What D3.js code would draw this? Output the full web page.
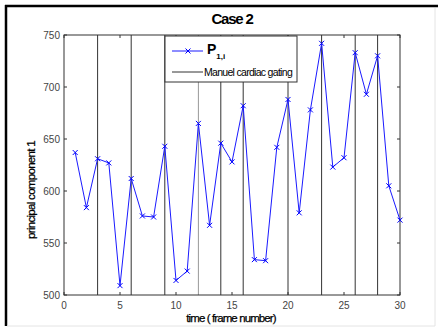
<!DOCTYPE html>
<html>
<head>
<meta charset="utf-8">
<script src="https://cdn.jsdelivr.net/npm/d3@7"></script>
<style>
  body { margin: 0; background: #fff; }
  text { font-family: "Liberation Sans Narrow", "Liberation Sans", Arial, sans-serif; }
</style>
</head>
<body>
<svg id="chart"></svg>
<script>
// data
const frames = d3.range(1, 31);
const pc1 = [637, 584, 631, 627, 509, 612, 576, 575, 643, 514,
             523, 665, 567, 646, 628, 682, 534, 533, 642, 688,
             579, 678, 742, 623, 632, 733, 693, 730, 605, 572];
const gating = [3, 6, 9, 12, 14, 16, 20, 23, 26, 28];
const xTicks = [0, 5, 10, 15, 20, 25, 30];
const yTicks = [500, 550, 600, 650, 700, 750];

const width = 438, height = 330;
const svg = d3.select("#chart").attr("width", width).attr("height", height);

// outer frame (dark top/left, light bottom/right)
svg.append("line").attr("x1", 5).attr("x2", 438).attr("y1", 6).attr("y2", 6)
  .attr("stroke", "#000").attr("stroke-width", 2.5);
svg.append("line").attr("x1", 6).attr("x2", 6).attr("y1", 5).attr("y2", 326)
  .attr("stroke", "#000").attr("stroke-width", 2.5);
svg.append("line").attr("x1", 435).attr("x2", 435).attr("y1", 8).attr("y2", 326)
  .attr("stroke", "#e4e4e4");
svg.append("line").attr("x1", 7).attr("x2", 435).attr("y1", 326).attr("y2", 326)
  .attr("stroke", "#e4e4e4");

const m = { left: 64, right: 400, top: 35, bottom: 295 };
const x = d3.scaleLinear().domain([0, 30]).range([m.left, m.right]);
const y = d3.scaleLinear().domain([500, 750]).range([m.bottom, m.top]);

// gating lines
svg.append("g").selectAll("line").data(gating).join("line")
  .attr("x1", d => x(d)).attr("x2", d => x(d))
  .attr("y1", m.top).attr("y2", m.bottom)
  .attr("stroke", d => d === 12 ? "#999" : "#333")
  .attr("stroke-width", 1);

// axes box
svg.append("rect").attr("x", m.left).attr("y", m.top)
  .attr("width", m.right - m.left).attr("height", m.bottom - m.top)
  .attr("fill", "none").attr("stroke", "#333").attr("stroke-width", 1);

// ticks (inward)
const tk = 3;
const tickG = svg.append("g").attr("stroke", "#333");
xTicks.forEach(t => {
  tickG.append("line").attr("x1", x(t)).attr("x2", x(t)).attr("y1", m.bottom).attr("y2", m.bottom - tk);
  tickG.append("line").attr("x1", x(t)).attr("x2", x(t)).attr("y1", m.top).attr("y2", m.top + tk);
});
yTicks.forEach(t => {
  tickG.append("line").attr("x1", m.left).attr("x2", m.left + tk).attr("y1", y(t)).attr("y2", y(t));
  tickG.append("line").attr("x1", m.right).attr("x2", m.right - tk).attr("y1", y(t)).attr("y2", y(t));
});

svg.append("g").selectAll("text").data(xTicks).join("text")
  .attr("x", d => x(d)).attr("y", m.bottom + 14)
  .attr("text-anchor", "middle").attr("font-size", 10).attr("fill", "#444")
  .text(d => d);
svg.append("g").selectAll("text").data(yTicks).join("text")
  .attr("x", m.left - 4).attr("y", d => y(d) + 3.5)
  .attr("text-anchor", "end").attr("font-size", 10).attr("fill", "#444")
  .text(d => d);

// series
const line = d3.line().x((d, i) => x(frames[i])).y(d => y(d));
svg.append("path").datum(pc1).attr("d", line)
  .attr("fill", "none").attr("stroke", "#1a1aff").attr("stroke-width", 1);

const s = 2.5;
const cross = (cx, cy) => `M${cx - s},${cy - s}L${cx + s},${cy + s}M${cx - s},${cy + s}L${cx + s},${cy - s}`;
svg.append("g").selectAll("path").data(pc1).join("path")
  .attr("d", (d, i) => cross(x(frames[i]), y(d)))
  .attr("stroke", "#0000ff").attr("stroke-width", 1).attr("fill", "none");

// legend
const lg = svg.append("g");
lg.append("rect").attr("x", 165).attr("y", 36).attr("width", 132).attr("height", 46)
  .attr("fill", "#fff").attr("stroke", "#333");
lg.append("line").attr("x1", 172).attr("x2", 203).attr("y1", 51).attr("y2", 51)
  .attr("stroke", "#1a1aff");
lg.append("path").attr("d", cross(188, 51)).attr("stroke", "#0000ff");
const pl = lg.append("text").attr("x", 207).attr("y", 54)
  .attr("font-size", 14).attr("font-weight", "bold").attr("fill", "#000");
pl.append("tspan").text("P");
pl.append("tspan").attr("dy", 5).attr("font-size", 8).text("1,i");
lg.append("line").attr("x1", 172).attr("x2", 203).attr("y1", 72).attr("y2", 72)
  .attr("stroke", "#333");
lg.append("text").attr("x", 204).attr("y", 75.5)
  .attr("font-size", 10.5).attr("letter-spacing", -0.7).attr("fill", "#000")
  .text("Manuel cardiac gating");

// title and labels
svg.append("text").attr("x", 232).attr("y", 23.5).attr("text-anchor", "middle")
  .attr("font-size", 15).attr("font-weight", "bold").attr("letter-spacing", -1.2)
  .text("Case 2");
svg.append("text").attr("x", 231).attr("y", 322).attr("text-anchor", "middle")
  .attr("font-size", 11.5).attr("letter-spacing", -0.9).attr("stroke", "#000").attr("stroke-width", 0.25)
  .text("time ( frame number)");
svg.append("text").attr("transform", "translate(35,190) rotate(-90)")
  .attr("text-anchor", "middle").attr("font-size", 11.5).attr("letter-spacing", -0.7)
  .attr("stroke", "#000").attr("stroke-width", 0.25)
  .text("principal component 1");
</script>
</body>
</html>
